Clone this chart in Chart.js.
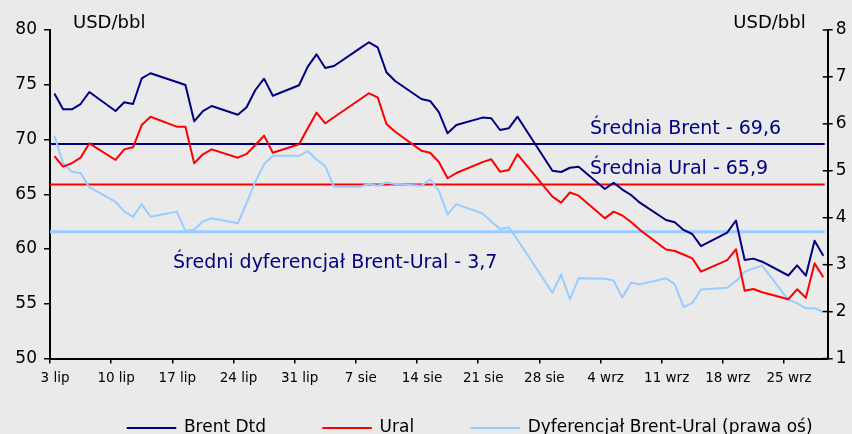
<!DOCTYPE html>
<html lang="pl">
<head>
<meta charset="utf-8">
<script src="https://cdn.jsdelivr.net/npm/chart.js@4.4.1/dist/chart.umd.min.js"></script>
<style>
  html, body { margin: 0; padding: 0; background: #eaeaea; overflow: hidden; }
  #wrap { position: relative; width: 852px; height: 483px; }
</style>
</head>
<body>
<div id="wrap"><canvas id="oilChart"></canvas></div>
<script>
// Business days 3 lip - 29 wrz
const dates = [
  "2006-07-03","2006-07-04","2006-07-05","2006-07-06","2006-07-07",
  "2006-07-10","2006-07-11","2006-07-12","2006-07-13","2006-07-14",
  "2006-07-17","2006-07-18","2006-07-19","2006-07-20","2006-07-21",
  "2006-07-24","2006-07-25","2006-07-26","2006-07-27","2006-07-28",
  "2006-07-31","2006-08-01","2006-08-02","2006-08-03","2006-08-04",
  "2006-08-07","2006-08-08","2006-08-09","2006-08-10","2006-08-11",
  "2006-08-14","2006-08-15","2006-08-16","2006-08-17","2006-08-18",
  "2006-08-21","2006-08-22","2006-08-23","2006-08-24","2006-08-25",
  "2006-08-28","2006-08-29","2006-08-30","2006-08-31","2006-09-01",
  "2006-09-04","2006-09-05","2006-09-06","2006-09-07","2006-09-08",
  "2006-09-11","2006-09-12","2006-09-13","2006-09-14","2006-09-15",
  "2006-09-18","2006-09-19","2006-09-20","2006-09-21","2006-09-22",
  "2006-09-25","2006-09-26","2006-09-27","2006-09-28","2006-09-29"
];

const brent = [
  74.2, 72.76, 72.76, 73.24, 74.34,
  72.6, 73.4, 73.24, 75.59, 76.05,
  75.25, 74.98, 71.66, 72.6, 73.06,
  72.26, 72.94, 74.52, 75.55, 74.0,
  74.95, 76.65, 77.78, 76.53, 76.71,
  78.35, 78.88, 78.42, 76.14, 75.34,
  73.7, 73.52, 72.5, 70.57, 71.32,
  72.0, 71.94, 70.87, 71.02, 72.08,
  null, 67.15, 67.03, 67.42, 67.52,
  65.48, 66.05, 65.43, 64.93, 64.23,
  62.65, 62.44, 61.74, 61.37, 60.27,
  61.49, 62.6, 59.0, 59.12, 58.84,
  57.58, 58.5, 57.56, 60.76, 59.39
];

const ural = [
  68.49, 67.52, 67.83, 68.34, 69.65,
  68.13, 69.1, 69.29, 71.32, 72.08,
  71.17, 71.17, 67.83, 68.65, 69.1,
  68.34, 68.68, 69.5, 70.35, 68.79,
  69.56, 71.02, 72.45, 71.48, 72.03,
  73.68, 74.22, 73.85, 71.42, 70.71,
  68.98, 68.79, 67.95, 66.46, 66.94,
  67.93, 68.19, 67.06, 67.21, 68.65,
  null, 64.78, 64.23, 65.16, 64.87,
  62.8, 63.41, 63.06, 62.47, 61.75,
  59.95, 59.82, 59.5, 59.15, 57.93,
  58.99, 59.97, 56.19, 56.35, 56.05,
  55.41, 56.32, 55.55, 58.69, 57.42
];

// Dyferencjal Brent-Ural (right axis)
const spread = [
  5.75, 5.16, 4.98, 4.95, 4.65,
  4.34, 4.13, 4.02, 4.29, 4.02,
  4.13, 3.72, 3.75, 3.92, 3.99,
  3.88, 4.31, 4.77, 5.14, 5.32,
  5.32, 5.42, 5.24, 5.1, 4.66,
  4.66, 4.72, 4.68, 4.75, 4.72,
  4.68, 4.82, 4.57, 4.07, 4.29,
  4.09, 3.92, 3.76, 3.79, 3.53,
  null, 2.4, 2.79, 2.26, 2.71,
  2.7, 2.66, 2.3, 2.62, 2.58,
  2.71, 2.58, 2.1, 2.18, 2.47,
  2.51, 2.65, 2.85, 2.92, 2.98,
  2.25, 2.18, 2.07, 2.07, 1.99
];

const tickLabels = ["3 lip", "10 lip", "17 lip", "24 lip", "31 lip", "7 sie", "14 sie",
                    "21 sie", "28 sie", "4 wrz", "11 wrz", "18 wrz", "25 wrz"];

const avgBrent  = 69.6;
const avgUral   = 65.9;
const avgSpread = 3.7;

const NAVY  = "#000080";
const RED   = "#ff0000";
const LIGHT = "#99ccff";
const FONT  = "'DejaVu Sans', Verdana, sans-serif";

// day index counted from the first date (weekends keep their slot)
const DAY = 86400000;
const dayIdx = dates.map(d => (Date.parse(d) - Date.parse(dates[0])) / DAY);
const lastDay = dayIdx[dayIdx.length - 1];

function toPoints(values) {
  return dayIdx.map((x, i) => ({ x, y: values[i] }));
}

function fmt(v) {
  return v.toFixed(1).replace(".", ",");
}

// ─── Overlay: average lines, their labels, unit titles, inner ticks ─────────

const overlay = {
  id: "overlay",
  afterLayout(chart) {
    // the original legend sits right of centre and is cut by the frame
    chart.legend.left += 44;
    chart.legend.right += 44;
    chart.legend.top -= 36.5;
    chart.legend.bottom -= 36.5;
  },
  beforeDatasetsDraw(chart) {
    const { ctx, chartArea: a, scales } = chart;
    const lines = [
      [scales.y.getPixelForValue(avgBrent), NAVY, 2],
      [scales.y.getPixelForValue(avgUral), RED, 2],
      [scales.y2.getPixelForValue(avgSpread), LIGHT, 3]
    ];
    ctx.save();
    for (const [py, color, w] of lines) {
      ctx.strokeStyle = color;
      ctx.lineWidth = w;
      ctx.beginPath();
      ctx.moveTo(a.left, py);
      ctx.lineTo(a.right - 3, py);
      ctx.stroke();
    }
    ctx.restore();
  },
  afterDraw(chart) {
    const { ctx, chartArea: a, scales } = chart;
    ctx.save();

    ctx.fillStyle = NAVY;
    ctx.font = "19px " + FONT;
    ctx.textBaseline = "alphabetic";
    ctx.textAlign = "left";
    ctx.fillText("Średnia Brent - " + fmt(avgBrent), a.left + 540, scales.y.getPixelForValue(avgBrent) - 9.5);
    ctx.fillText("Średnia Ural - " + fmt(avgUral), a.left + 540, scales.y.getPixelForValue(avgUral) - 10);
    ctx.fillText("Średni dyferencjał Brent-Ural - " + fmt(avgSpread), a.left + 123,
                 scales.y2.getPixelForValue(avgSpread) + 36.5);

    ctx.fillStyle = "#000";
    ctx.font = "18px " + FONT;
    ctx.fillText("USD/bbl", a.left + 23, 28);
    ctx.textAlign = "right";
    ctx.fillText("USD/bbl", a.right - 22, 28);

    // right axis ticks cross the axis line
    const r = scales.y2;
    ctx.strokeStyle = "#000";
    ctx.lineWidth = 1.5;
    for (const t of r.ticks) {
      const py = r.getPixelForValue(t.value);
      ctx.beginPath();
      ctx.moveTo(a.right - 5, py);
      ctx.lineTo(a.right, py);
      ctx.stroke();
    }
    ctx.restore();
  }
};

// ─── Chart ──────────────────────────────────────────────────────────────────

const tickFont = { family: FONT, size: 17 };

new Chart(document.getElementById("oilChart"), {
  type: "line",
  data: {
    datasets: [
      {
        label: "Brent Dtd",
        data: toPoints(brent),
        borderColor: NAVY,
        backgroundColor: NAVY,
        borderWidth: 2,
        yAxisID: "y"
      },
      {
        label: "Ural",
        data: toPoints(ural),
        borderColor: RED,
        backgroundColor: RED,
        borderWidth: 2,
        yAxisID: "y"
      },
      {
        label: "Dyferencjał Brent-Ural (prawa oś)",
        data: toPoints(spread),
        borderColor: LIGHT,
        backgroundColor: LIGHT,
        borderWidth: 2,
        yAxisID: "y2"
      }
    ]
  },
  options: {
    responsive: true,
    maintainAspectRatio: false,
    animation: false,
    devicePixelRatio: 1,
    spanGaps: true,
    layout: { padding: { top: 30, left: 0, right: 0, bottom: 0 } },
    elements: {
      point: { radius: 0, hoverRadius: 0 },
      line: { tension: 0, borderJoinStyle: "round" }
    },
    scales: {
      x: {
        type: "linear",
        min: -0.5,
        max: lastDay + 0.5,
        afterBuildTicks: s => {
          s.ticks = tickLabels.map((_, i) => ({ value: i * 7 - 0.5 }));
        },
        afterFit: s => { s.height = 40.5; },
        grid: { drawOnChartArea: false, color: "#000", lineWidth: 1.5, tickLength: 5 },
        border: { color: "#000", width: 2 },
        ticks: {
          autoSkip: false,
          maxRotation: 0,
          labelOffset: 5,
          padding: 7,
          color: "#000",
          font: { family: FONT, size: 13.5 },
          callback: (v, i) => tickLabels[i]
        }
      },
      y: {
        position: "left",
        min: 50,
        max: 80,
        afterFit: s => { s.width = 50; },
        grid: { drawOnChartArea: false, color: "#000", lineWidth: 1.5, tickLength: 6 },
        border: { color: "#000", width: 2 },
        ticks: { stepSize: 5, padding: 7, color: "#000", font: tickFont }
      },
      y2: {
        position: "right",
        min: 1,
        max: 8,
        afterFit: s => { s.width = 24.3; },
        grid: { drawOnChartArea: false, color: "#000", lineWidth: 1.5, tickLength: 5 },
        border: { color: "#000", width: 2 },
        ticks: { stepSize: 1, padding: 3, color: "#000", font: tickFont }
      }
    },
    plugins: {
      tooltip: { enabled: false },
      legend: {
        position: "bottom",
        labels: {
          boxWidth: 48,
          boxHeight: 0,
          padding: 57,
          color: "#000",
          font: { family: FONT, size: 17 }
        }
      }
    }
  },
  plugins: [overlay]
});
</script>
</body>
</html>
